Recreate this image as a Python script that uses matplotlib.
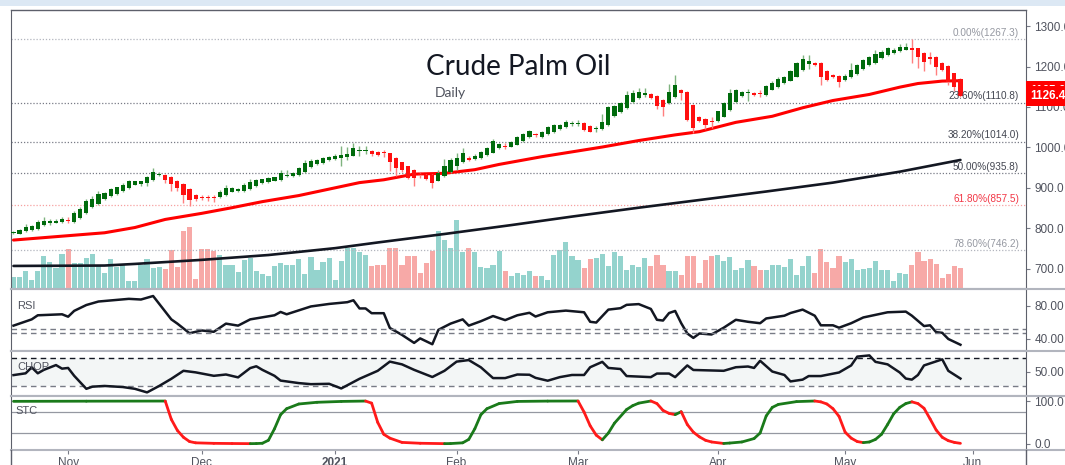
import numpy as np
import matplotlib.pyplot as plt
from matplotlib.collections import LineCollection
from matplotlib.patches import Rectangle
from matplotlib.lines import Line2D
import matplotlib.transforms as mtransforms

plt.rcParams['font.family'] = ['Liberation Sans', 'DejaVu Sans']

# ---- daily bars, Oct 2020 .. May 2021 (bar index 0..156) ----
opens = [789, 787, 794, 796, 799, 807, 812, 814, 816, 821, 816, 826, 839, 852, 860, 872, 880, 885, 892, 899,
         908, 910, 911, 919, 933, 932, 928, 918, 910, 897, 883, 878, 878, 877, 877, 883, 891, 893, 892, 897,
         905, 911, 915, 918, 920, 930, 929, 931, 939, 951, 959, 962, 969, 971, 975, 976, 980, 990, 990, 992,
         988, 987, 985, 975, 963, 953, 944, 933, 932, 932, 918, 930, 940, 955, 964, 975, 971, 973, 981, 987,
         999, 1004, 1002, 1007, 1015, 1025, 1032, 1025, 1033, 1038, 1045, 1050, 1059, 1059, 1060, 1053, 1045, 1045, 1055, 1078,
         1087, 1097, 1112, 1122, 1129, 1132, 1127, 1117, 1109, 1124, 1141, 1137, 1105, 1075, 1071, 1066, 1065, 1076, 1092, 1113,
         1127, 1135, 1135, 1135, 1130, 1143, 1150, 1160, 1165, 1175, 1191, 1206, 1209, 1208, 1190, 1179, 1176, 1167, 1173, 1181,
         1193, 1204, 1209, 1220, 1228, 1234, 1239, 1242, 1247, 1245, 1234, 1224, 1223, 1208, 1201, 1183, 1170]
highs = [793, 799, 810, 808, 820, 828, 822, 824, 828, 828, 842, 852, 873, 880, 893, 890, 900, 903, 913, 920,
         918, 918, 929, 948, 939, 934, 930, 920, 912, 899, 885, 882, 883, 882, 894, 906, 902, 899, 912, 922,
         922, 923, 926, 928, 943, 943, 939, 952, 970, 971, 972, 976, 980, 983, 1004, 1000, 1010, 1004, 1003, 994,
         990, 994, 987, 977, 965, 955, 946, 936, 934, 934, 945, 972, 975, 985, 998, 980, 983, 991, 1002, 1020,
         1012, 1010, 1016, 1029, 1036, 1044, 1035, 1040, 1052, 1058, 1059, 1068, 1066, 1067, 1062, 1055, 1053, 1082, 1102, 1105,
         1112, 1139, 1143, 1146, 1146, 1135, 1129, 1119, 1157, 1180, 1144, 1139, 1107, 1077, 1073, 1075, 1091, 1112, 1145, 1145,
         1140, 1145, 1137, 1141, 1155, 1163, 1173, 1176, 1191, 1211, 1228, 1228, 1211, 1210, 1192, 1181, 1178, 1182, 1208, 1206,
         1219, 1227, 1241, 1240, 1248, 1245, 1255, 1257, 1267.3, 1247, 1236, 1235, 1225, 1210, 1203, 1185, 1172]
lows = [786, 785, 792, 794, 797, 805, 809, 812, 813, 812, 814, 824, 836, 850, 858, 870, 878, 883, 889, 897,
        906, 905, 904, 916, 930, 912, 893, 892, 863, 855, 868, 870, 868, 866, 875, 881, 889, 891, 890, 895,
        903, 909, 913, 916, 918, 926, 927, 929, 937, 949, 957, 960, 966, 969, 955, 970, 978, 980, 984, 978,
        979, 977, 941, 929, 940, 922, 905, 925, 920, 899, 916, 928, 938, 945, 962, 966, 969, 971, 979, 985,
        997, 995, 1000, 1005, 1013, 1023, 1027, 1023, 1031, 1036, 1043, 1048, 1054, 1053, 1041, 1037, 1038, 1043, 1053, 1076,
        1085, 1095, 1110, 1120, 1124, 1119, 1095, 1078, 1107, 1122, 1117, 1066, 1035, 1062, 1045, 1047, 1063, 1074, 1090, 1111,
        1125, 1115, 1127, 1124, 1128, 1141, 1148, 1158, 1163, 1173, 1189, 1195, 1202, 1154, 1165, 1171, 1149, 1165, 1171, 1179,
        1191, 1202, 1207, 1218, 1226, 1232, 1237, 1240, 1208, 1196, 1190, 1206, 1179, 1189, 1154, 1140, 1124]
closes = [790, 797, 804, 806, 816, 819, 819, 818, 824, 819, 837, 847, 867, 873, 885, 887, 896, 901, 908, 917,
          917, 917, 926, 939, 935, 920, 910, 899, 882, 870, 873, 876, 876, 875, 891, 899, 899, 897, 907, 915,
          919, 921, 924, 926, 938, 932, 936, 949, 962, 967, 969, 974, 977, 980, 981, 983, 999, 992, 994, 983,
          981, 985, 963, 948, 944, 925, 924, 931, 922, 911, 938, 953, 968, 973, 985, 968, 980, 988, 999, 1017,
          1008, 1002, 1013, 1026, 1033, 1041, 1030, 1037, 1050, 1055, 1056, 1064, 1061, 1061, 1043, 1039, 1047, 1063, 1099, 1102,
          1109, 1130, 1134, 1137, 1135, 1121, 1102, 1099, 1137, 1155, 1134, 1069, 1047, 1065, 1056, 1064, 1089, 1110, 1135, 1142,
          1137, 1137, 1129, 1133, 1152, 1160, 1170, 1173, 1188, 1208, 1219, 1213, 1204, 1173, 1167, 1173, 1162, 1176, 1191, 1203,
          1216, 1224, 1231, 1237, 1245, 1242, 1249, 1249, 1242, 1223, 1212, 1218, 1199, 1191, 1162, 1149, 1126.4]
volume = [1200, 1200, 1830, 930, 1830, 3270, 2730, 2100, 3530, 4000, 2600, 2600, 3100, 3530, 2270, 1600, 3000, 2200, 2400, 770,
          830, 2430, 3000, 2100, 2200, 2000, 3930, 2200, 5770, 6200, 1000, 4000, 4000, 3830, 3430, 2370, 2430, 1730, 2930, 3100,
          1830, 1530, 1330, 2270, 2600, 2370, 2370, 3000, 1530, 3200, 1930, 2730, 3100, 930, 2830, 4100, 4100, 3670, 3370, 2270,
          2370, 2370, 4100, 4100, 2430, 3270, 3270, 1600, 2600, 3770, 5770, 4870, 4100, 6930, 3670, 4100, 3670, 2200, 2100, 2430,
          3770, 1770, 1270, 1600, 1430, 1770, 1330, 1270, 930, 3430, 3870, 4670, 3270, 2870, 2100, 3030, 3100, 3530, 2330, 3670,
          3270, 1930, 2400, 2170, 3070, 2270, 3430, 2430, 1770, 1770, 1430, 3330, 3330, 600, 2930, 3330, 3400, 2770, 3200, 1930,
          2070, 2930, 2270, 1930, 1870, 2370, 2400, 2200, 3000, 1430, 2270, 3270, 1600, 4000, 2700, 2100, 3270, 2700, 3000, 1930,
          2000, 2070, 2770, 1870, 1870, 830, 1600, 1530, 2370, 3700, 2830, 3030, 2530, 1100, 1530, 2270, 2100]

# moving averages (read at sample bars)
ma_fast_idx = [0, 10, 15, 20, 25, 31, 36, 41, 47, 52, 57, 61, 66, 71, 76, 80, 87, 92, 97, 103, 109, 113, 119, 125,
               130, 135, 141, 146, 149, 153, 156]
ma_fast_val = [771, 783, 789, 802, 822, 837, 851, 866, 881, 897, 913, 920, 934, 936, 945, 958, 977, 989, 1001, 1017,
               1031, 1039, 1062, 1077, 1098, 1116, 1131, 1149, 1158, 1164, 1165]
ma_slow_idx = [0, 15, 20, 31, 42, 53, 60, 71, 82, 92, 103, 113, 124, 135, 146, 156]
ma_slow_val = [707, 708, 712, 722, 734, 751, 765, 786, 808, 829, 851, 870, 891, 913, 940, 969]

# Fibonacci retracement
fib_pct = [0.0, 23.6, 38.2, 50.0, 61.8, 78.6]
fib_price = [1267.3, 1110.8, 1014.0, 935.8, 857.5, 746.2]

# indicators
rsi_idx = [0, 3, 4, 8, 9, 10, 12, 14, 19, 21, 23, 26, 27, 29, 31, 33, 35, 37, 39, 43, 44, 45, 49, 52, 55, 56, 57, 58,
           59, 61, 62, 64, 66, 67, 69, 70, 72, 74, 75, 77, 79, 81, 83, 85, 86, 88, 91, 94, 95, 96, 98, 100, 101, 103,
           105, 106, 107, 108, 109, 110, 111, 112, 113, 115, 117, 119, 121, 123, 124, 127, 128, 130, 132, 133, 135,
           136, 138, 140, 144, 147, 148, 150, 151, 152, 153, 154, 156]
rsi_val = [55.9, 63.4, 68.3, 69.5, 66.6, 73.6, 80.6, 84.8, 88.0, 87.2, 91.4, 63.4, 58.3, 46.8, 50.1, 48.5, 58.3, 55.9,
           63.4, 68.3, 72.3, 69.5, 78.9, 81.9, 84.0, 86.3, 76.5, 76.5, 70.8, 70.8, 53.1, 44.8, 35.2, 40.6, 33.6, 50.9,
           58.3, 63.4, 55.9, 61.2, 67.4, 62.5, 68.3, 71.3, 66.8, 71.9, 73.9, 71.9, 60.5, 59.6, 75.1, 76.8, 80.8, 81.7,
           75.9, 62.9, 62.0, 71.0, 73.5, 58.8, 46.5, 41.2, 46.5, 45.3, 53.4, 62.9, 60.5, 58.8, 64.5, 67.8, 71.0, 75.1,
           67.8, 56.3, 56.3, 53.4, 58.8, 65.7, 71.9, 72.7, 67.8, 55.4, 56.3, 48.1, 47.3, 39.9, 33.0]
rsi_bands = [51.4, 47.3]

chop_idx = [0, 2, 3, 4, 5, 7, 8, 9, 10, 12, 13, 15, 18, 20, 22, 24, 26, 28, 30, 33, 35, 37, 39, 40, 41, 43, 44, 47,
            49, 52, 54, 57, 60, 62, 64, 66, 69, 71, 73, 75, 77, 79, 81, 83, 85, 86, 88, 90, 92, 94, 95, 97, 98, 100,
            101, 105, 106, 108, 109, 111, 112, 117, 119, 121, 122, 123, 125, 127, 128, 130, 131, 133, 136, 138, 139,
            141, 142, 144, 146, 147, 148, 149, 150, 153, 154, 156]
chop_val = [47.4, 48.9, 53.9, 48.9, 51.8, 55.8, 52.8, 53.4, 46.8, 35.9, 37.7, 38.3, 37.4, 35.9, 32.9, 38.3, 44.3, 51.0,
            49.7, 46.8, 47.9, 45.5, 53.3, 54.8, 51.8, 46.8, 42.8, 40.7, 39.8, 40.1, 36.2, 44.3, 51.0, 58.7, 56.4, 51.8,
            45.8, 51.0, 58.7, 60.0, 53.9, 44.9, 44.9, 47.9, 47.7, 45.1, 42.7, 45.7, 47.5, 47.5, 54.0, 58.5, 53.4, 52.5,
            46.6, 45.7, 48.7, 48.7, 45.7, 55.5, 51.7, 51.0, 54.0, 54.6, 53.4, 59.4, 50.4, 47.5, 42.1, 43.6, 46.6, 46.6,
            49.6, 55.5, 62.9, 63.9, 58.5, 56.4, 49.6, 44.5, 43.6, 47.5, 55.5, 60.6, 51.0, 44.5]
chop_bands = [61.8, 38.2]

stc_idx = [0, 12, 25, 26, 27, 28, 29, 30, 33, 36, 39, 40, 41, 42, 43, 44, 45, 47, 50, 54, 58, 59, 60, 61, 62, 64, 67,
           71, 72, 74, 75, 76, 77, 78, 80, 83, 88, 93, 94, 95, 96, 97, 98, 99, 101, 102, 103, 105, 106, 107, 108, 109,
           110, 111, 112, 113, 114, 115, 117, 118, 120, 122, 123, 124, 125, 126, 129, 132, 133, 134, 135, 136, 137,
           138, 139, 140, 141, 142, 143, 144, 145, 146, 147, 148, 149, 150, 151, 152, 153, 154, 155, 156]
stc_val = [99.2, 99.6, 99.9, 57, 31, 15, 5, 2, 0.8, 0.4, 0.1, 0.3, 1, 8, 35, 68, 82, 93, 97, 99, 99.9, 95, 50, 22, 13,
           3, 1, 0.1, 0.3, 2, 10, 35, 68, 82, 94, 99, 99.8, 100, 74, 42, 20, 9, 25, 48, 80, 89, 95, 100, 94, 78, 71,
           68, 75, 45, 27, 16, 8, 4, 0.5, 1.5, 4, 12, 25, 65, 85, 92, 98.6, 100, 98, 93, 82, 64, 27, 13, 5, 2.5, 4, 10,
           22, 45, 70, 85, 94, 98, 94, 83, 58, 32, 15, 7, 3, 0.8]
stc_bands = [75, 25]

month_pos = [9, 31, 53, 73, 93, 116, 137, 158]
month_lbl = ['Nov', 'Dec', '2021', 'Feb', 'Mar', 'Apr', 'May', 'Jun']

# ---- figure / panels (pixel layout of the reference) ----
W, H = 1065, 465
fig = plt.figure(figsize=(W / 100, H / 100), dpi=100)


def rect(x0, y0, x1, y1):
    return [x0 / W, 1 - y1 / H, (x1 - x0) / W, (y1 - y0) / H]


XL, XR = 10.7, 1026
ax = fig.add_axes(rect(XL, 10.3, XR, 289))
ax_rsi = fig.add_axes(rect(XL, 289, XR, 351), sharex=ax)
ax_chop = fig.add_axes(rect(XL, 351, XR, 395.5), sharex=ax)
ax_stc = fig.add_axes(rect(XL, 395.5, XR, 450), sharex=ax)

fig.add_artist(Rectangle((0, 1 - 6 / H), 1, 6 / H, transform=fig.transFigure, color='#dce8f4', lw=0))

border = '#5d606b'
sep = '#b2b5be'
txt = '#50535e'

# volume sits on its own hidden scale behind the candles
ax_v = ax.twinx()
x = np.arange(len(closes))
o = np.array(opens, float)
c = np.array(closes, float)
hi = np.array(highs, float)
lo = np.array(lows, float)
up = c >= o
ax_v.bar(x, volume, width=0.85, color=np.where(up, '#94d3cd', '#f7a9a7'), lw=0)
ax_v.set_ylim(0, 27870)
ax_v.axis('off')
ax.set_zorder(ax_v.get_zorder() + 1)
ax.patch.set_visible(False)

for a in (ax, ax_rsi, ax_chop, ax_stc):
    a.set_xlim(-0.46, 166.8)
    a.yaxis.tick_right()
    a.yaxis.set_label_position('right')
    a.tick_params(axis='y', left=False, labelleft=False, right=True, labelright=True,
                  length=3, color='#787b86', labelsize=8.5, labelcolor=txt, pad=3)
    a.tick_params(axis='x', bottom=False, labelbottom=False)
    a.spines['left'].set_color(border)
    a.spines['right'].set_color(border)
    a.spines['top'].set_color(sep)
    a.spines['bottom'].set_color(sep)
    a.spines['top'].set_linewidth(1.5)
    a.spines['bottom'].set_linewidth(1.5)
ax.spines['top'].set_color(border)
ax.spines['top'].set_linewidth(1.0)

# separators through the right price-scale column
for yy in (289, 351, 395.5, 450):
    fig.add_artist(Line2D([XR / W, 1], [1 - yy / H] * 2, transform=fig.transFigure, color=sep, lw=1.5))
for xx in (XL, XR):
    fig.add_artist(Line2D([xx / W] * 2, [0, 1 - 450 / H], transform=fig.transFigure, color=border, lw=1))

# ---- main price panel ----
fib_cols = ['#b2b5be', '#787b86', '#787b86', '#787b86', '#f7a0a0', '#b2b5be']
fib_txt = ['#9598a1', '#434651', '#434651', '#434651', '#f23645', '#9598a1']
for pct, p, lc, tc in zip(fib_pct, fib_price, fib_cols, fib_txt):
    ax.axhline(p, color=lc, ls=(0, (1, 1.5)), lw=0.9, zorder=1)
    ax.annotate(f'{pct:.2f}%({p:.1f})', xy=(0.9931, p), xycoords=('axes fraction', 'data'),
                xytext=(0, 1), textcoords='offset points', ha='right', va='bottom',
                fontsize=7.2, color=tc, zorder=6)

ax.plot(ma_slow_idx, ma_slow_val, color='#131722', lw=1.9, zorder=3, solid_capstyle='round')
ax.plot(ma_fast_idx, ma_fast_val, color='#ff0000', lw=2.2, zorder=3, solid_capstyle='round')

wick_cols = np.where(up, '#7fb37f', '#ff7f7f')
ax.vlines(x, lo, hi, colors=wick_cols, lw=1.0, zorder=4)
body_lo = np.minimum(o, c)
body_h = np.maximum(np.abs(c - o), 2.5)
ax.bar(x, body_h, bottom=body_lo, width=0.68, color=np.where(up, '#006b0c', '#ff1010'), lw=0, zorder=5)

ax.set_ylim(650, 1339)
ax.set_yticks(np.arange(700, 1301, 100))
ax.set_yticklabels([f'{v:.1f}' for v in np.arange(700, 1301, 100)])

ax.text(0.5, 1 - 65 / 279, 'Crude Palm Oil', transform=ax.transAxes, ha='center', va='baseline',
        fontsize=20, family='Lato', color='#131722')
ax.text((435 - XL) / (XR - XL), 1 - 87 / 279, 'Daily', transform=ax.transAxes, ha='left', va='baseline',
        fontsize=10, family='Lato', color=txt)

# last value labels on the price scale
tr = mtransforms.blended_transform_factory(ax.transAxes, ax.transData)
ax.text(1.0044, 1139, f'{ma_fast_val[-1]:.1f}', transform=tr, ha='left', va='center', fontsize=8.5,
        color='white', weight='bold', clip_on=False, zorder=10,
        bbox=dict(boxstyle='square,pad=0.35', fc='#ff0000', ec='none'))
ax.text(1.0044, closes[-1], f'{closes[-1]:.1f}', transform=tr, ha='left', va='center', fontsize=8.5,
        color='white', weight='bold', clip_on=False, zorder=11,
        bbox=dict(boxstyle='square,pad=0.35', fc='#ff0000', ec='none'))

# ---- RSI ----
ax_rsi.plot(rsi_idx, rsi_val, color='#131722', lw=1.8)
for lv in rsi_bands:
    ax_rsi.axhline(lv, color='#787b86', ls=(0, (4, 3)), lw=1.0)
ax_rsi.set_ylim(25.5, 99.8)
ax_rsi.set_yticks([40, 80])
ax_rsi.set_yticklabels(['40.00', '80.00'])
ax_rsi.text(0.0062, 0.72, 'RSI', transform=ax_rsi.transAxes, fontsize=8, color=txt, va='center')

# ---- CHOP ----
ax_chop.axhspan(chop_bands[1], chop_bands[0], color='#f3f6f6', lw=0)
ax_chop.axhline(chop_bands[0], color='#131722', ls=(0, (4, 3)), lw=1.0)
ax_chop.axhline(chop_bands[1], color='#787b86', ls=(0, (4, 3)), lw=1.0)
ax_chop.plot(chop_idx, chop_val, color='#131722', lw=1.8)
ax_chop.set_ylim(30.3, 67.6)
ax_chop.set_yticks([50])
ax_chop.set_yticklabels(['50.00'])
ax_chop.text(0.0062, 0.64, 'CHOP', transform=ax_chop.transAxes, fontsize=8, color=txt, va='center')

# ---- STC ----
for lv in stc_bands:
    ax_stc.axhline(lv, color='#9598a1', lw=0.9)
pts = np.column_stack([stc_idx, stc_val])
segs, cols = [], []
last = '#1a7a1a'
for i in range(len(pts) - 1):
    d = stc_val[i + 1] - stc_val[i]
    if d > 0:
        last = '#1a7a1a'
    elif d < 0:
        last = '#ff1a1a'
    segs.append(pts[i:i + 2])
    cols.append(last)
ax_stc.add_collection(LineCollection(segs, colors=cols, lw=2.0, capstyle='round'))
ax_stc.set_ylim(-14.8, 112.9)
ax_stc.set_yticks([0, 100])
ax_stc.set_yticklabels(['0.0', '100.0'])
ax_stc.text(0.0045, 0.716, 'STC', transform=ax_stc.transAxes, fontsize=8, color=txt, va='center')

ax_stc.tick_params(axis='x', bottom=True, labelbottom=True, length=3, color='#787b86',
                   labelsize=8.5, labelcolor=txt, pad=2)
ax_stc.set_xticks(month_pos)
ax_stc.set_xticklabels(month_lbl)
for t in ax_stc.get_xticklabels():
    if t.get_text() == '2021':
        t.set_fontweight('bold')
ax_stc.set_xlim(-0.46, 166.8)

fig.savefig('out.png', dpi=100)
